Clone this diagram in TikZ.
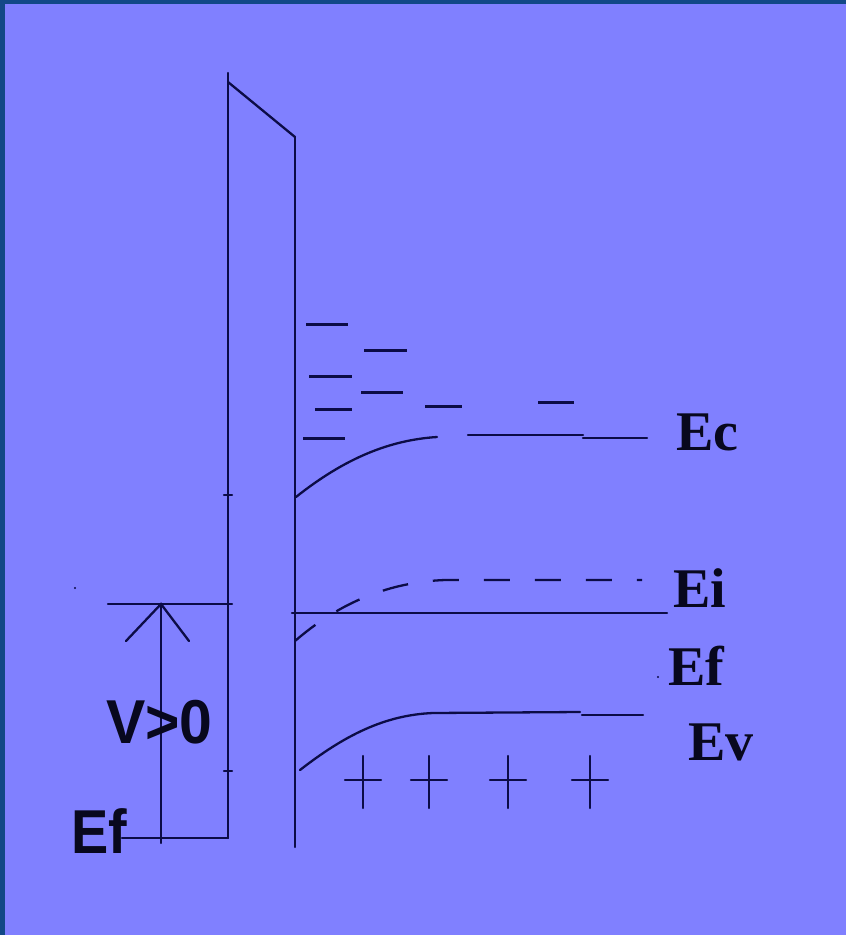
\documentclass[tikz,border=0pt]{standalone}
\usepackage{fontspec}
\setmainfont{Liberation Serif}
\newfontfamily\arialbold{Liberation Sans}[BoldFont={* Bold}]
\definecolor{bgpanel}{RGB}{128,128,255}
\definecolor{frameblue}{RGB}{18,72,135}
\definecolor{ink}{RGB}{12,12,70}
\definecolor{txt}{RGB}{8,8,30}
\tikzset{
  band/.style={draw=ink, line width=2.3pt, line cap=round},
  level/.style={draw=ink, line width=3pt},
  serif label/.style={text=txt, inner sep=0pt, anchor=base west, font=\fontsize{56}{60}\selectfont\bfseries},
  sans label/.style={text=txt, inner sep=0pt, anchor=base west, font=\arialbold\fontsize{62}{66}\selectfont\bfseries},
}
\begin{document}
\begin{tikzpicture}[x=1pt,y=-1pt]
\useasboundingbox (0,0) rectangle (846,935);
% background
\fill[frameblue] (0,0) rectangle (846,935);
\fill[bgpanel] (5,4) rectangle (846,935);

% oxide
\draw[band] (228,73) -- (228,838);
\draw[band] (228,82) -- (295,137);
\draw[band] (295,137) -- (295,847);
\draw[band] (224,495) -- (232,495);
\draw[band] (224,771) -- (232,771);

% metal side
\draw[band] (108,604) -- (232,604);
\draw[band] (122,838) -- (228,838);
\coordinate (vtop) at (161,604);
\coordinate (vbot) at (161,843);
\coordinate (hl) at (126,641);
\coordinate (hr) at (189,641);
\draw[band] (vbot) -- (vtop);
\draw[band] (hl) -- (vtop) -- (hr);
\fill[ink] (75,588) circle (1.2pt);

% semiconductor: Ec
\draw[band] (296,497) .. controls (345,458) and (390,440) .. (437,437);
\draw[band] (468,435) -- (583,435);
\draw[band] (583,438) -- (647,438);

% electron levels
\foreach \xa/\xb/\yy in {306/348/324, 364/407/350, 309/352/376, 361/403/392, 315/352/409, 425/462/406, 538/574/402, 303/345/438}
  \draw[level] (\xa,\yy) -- (\xb,\yy);

% Ei dashed
\draw[band, line cap=butt, dash pattern=on 26pt off 25pt] (295,641) .. controls (340,602) and (390,582) .. (445,580) -- (642,580);

% Ef
\draw[band] (292,613) -- (667,613);
\fill[ink] (658,677) circle (1.2pt);

% Ev
\draw[band] (300,770) .. controls (345,735) and (385,715) .. (433,713) -- (580,712);
\draw[band] (582,715) -- (643,715);

% plus signs
\foreach \cx in {363,429,508,590}
  \draw[band] (\cx-18,780) -- (\cx+18,780) (\cx,756) -- (\cx,808);

% labels
\node[serif label] (ec) at (676,450) {Ec};
\node[serif label] (ei) at (673,607) {Ei};
\node[serif label] (efr) at (668,685) {Ef};
\node[serif label] (ev) at (688,760) {Ev};
\node[sans label] (v) at (106,743) {\scalebox{0.95}[1]{V>0}};
\node[sans label] (efl) at (71,853) {\scalebox{0.9}[1]{Ef}};
\end{tikzpicture}
\end{document}
